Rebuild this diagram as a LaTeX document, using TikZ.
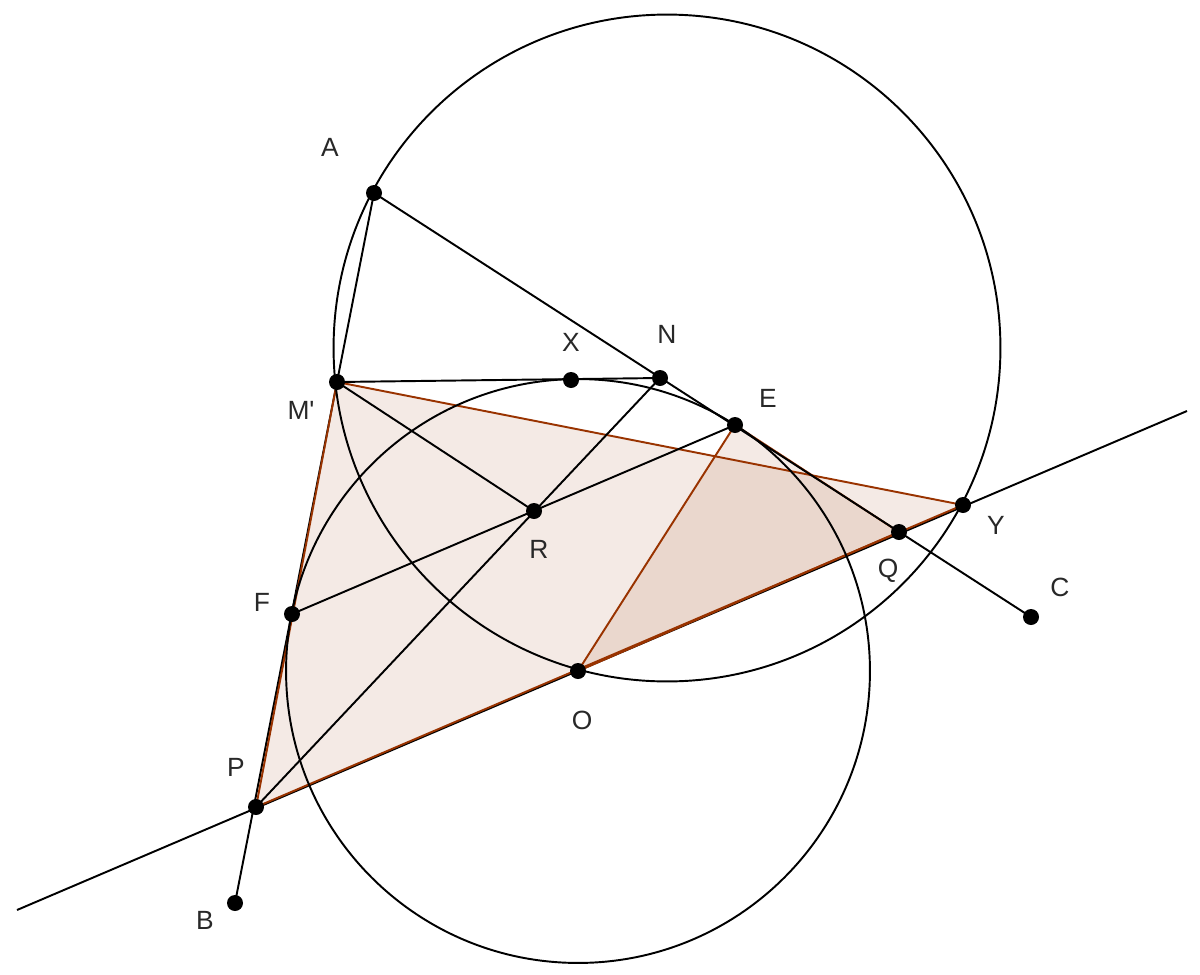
\documentclass[tikz,border=0pt]{standalone}
\usepackage{fontspec}
\setmainfont{Liberation Sans}
\definecolor{tribrown}{RGB}{153,51,0}
\definecolor{lblgray}{RGB}{40,40,40}
\begin{document}
\begin{tikzpicture}[x=0.02cm,y=-0.02cm,
  blk/.style={line width=1.1pt, black},
  tri/.style={draw=tribrown, line width=1.1pt, fill=tribrown, fill opacity=0.1, line join=round},
  dot/.style={circle, fill=black, inner sep=0pt, minimum size=0.32cm},
  lbl/.style={font=\fontsize{15}{18}\selectfont, text=lblgray, inner sep=0pt}]
\useasboundingbox (0,0) rectangle (1200,974);
\fill[white] (0,0) rectangle (1200,974);
% points
\coordinate (A) at (374,193);
\coordinate (M) at (337,382);
\coordinate (X) at (571,380);
\coordinate (N) at (660,378);
\coordinate (E) at (735,425);
\coordinate (R) at (534,511);
\coordinate (Y) at (963,505);
\coordinate (Q) at (899,532);
\coordinate (C) at (1031,617);
\coordinate (F) at (292,614);
\coordinate (O) at (578,671);
\coordinate (P) at (256,807);
\coordinate (B) at (235,903);
\coordinate (L1) at (17,910);
\coordinate (L2) at (1187,411);
\coordinate (K) at (667,348);
% lines
\draw[blk] (L1) -- (L2);
\draw[blk] (A) -- (B);
\draw[tri] (M) -- (P) -- (Y) -- cycle;
\draw[tri] (E) -- (O) -- (Q) -- cycle;
\draw[blk] (A) -- (C);
\draw[blk] (M) -- (N);
\draw[blk] (M) -- (R);
\draw[blk] (N) -- (P);
\draw[blk] (E) -- (F);
\draw[blk] (K) circle[radius=6.67cm];
\draw[blk] (O) circle[radius=5.84cm];
% dots
\foreach \p in {A,M,X,N,E,R,Y,Q,C,F,O,P,B}{\node[dot] (\p-dot) at (\p) {};}
% labels
\node[lbl] (A-lbl) at (330,147) {A};
\node[lbl] (M-lbl) at (301,410) {M\textquotesingle};
\node[lbl] (X-lbl) at (571,342) {X};
\node[lbl] (N-lbl) at (667,334) {N};
\node[lbl] (E-lbl) at (768,398) {E};
\node[lbl] (R-lbl) at (539,549) {R};
\node[lbl] (Y-lbl) at (996,525) {Y};
\node[lbl] (Q-lbl) at (888,571) {Q};
\node[lbl] (C-lbl) at (1060,587) {C};
\node[lbl] (F-lbl) at (262,602) {F};
\node[lbl] (O-lbl) at (582,720) {O};
\node[lbl] (P-lbl) at (236,767) {P};
\node[lbl] (B-lbl) at (205,920) {B};
\end{tikzpicture}
\end{document}
